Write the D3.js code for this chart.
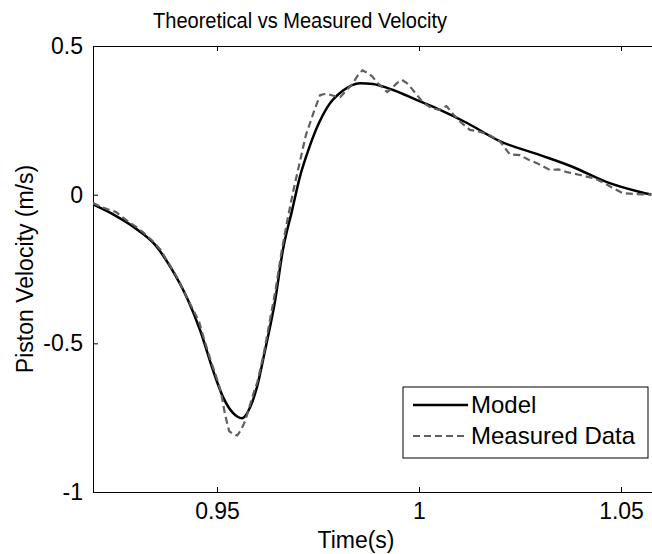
<!DOCTYPE html>
<html>
<head>
<meta charset="utf-8">
<script src="https://cdn.jsdelivr.net/npm/d3@7"></script>
<style>
  body { margin: 0; background: #fff; }
  svg { display: block; font-family: "Liberation Sans", Arial, sans-serif; }
  .axis path, .axis line { stroke: #000; stroke-width: 1px; }
  .axis text { font-size: 23px; fill: #000; }
</style>
</head>
<body>
<svg id="chart"></svg>
<script>
// model curve (time in s, velocity in m/s)
const model_t = [0.9193, 0.9245, 0.9297, 0.9347, 0.9389, 0.9428, 0.9458, 0.9490, 0.9515, 0.9540,
  0.9562, 0.9582, 0.9599, 0.9619, 0.9644, 0.9663, 0.9686, 0.9705, 0.9730, 0.9752, 0.9772,
  0.9812, 0.9854, 0.9886, 0.9936, 0.9995, 1.0052, 1.0119, 1.0200, 1.0300, 1.0381,
  1.0465, 1.0547, 1.0575];
const model_v = [-0.033, -0.068, -0.112, -0.169, -0.253, -0.354, -0.455, -0.590, -0.681, -0.735,
  -0.752, -0.715, -0.647, -0.523, -0.355, -0.187, -0.052, 0.059, 0.165, 0.240, 0.292,
  0.350, 0.375, 0.372, 0.352, 0.318, 0.285, 0.241, 0.180, 0.133, 0.093,
  0.042, 0.009, 0.000];

// measured data
const meas_t = [0.9193, 0.9215, 0.9235, 0.9250, 0.9265, 0.9285, 0.9300, 0.9320, 0.9340, 0.9360,
  0.9380, 0.9400, 0.9420, 0.9440, 0.9455, 0.9470, 0.9485, 0.9500, 0.9510, 0.9520,
  0.9530, 0.9540, 0.9550, 0.9560, 0.9570, 0.9580, 0.9590, 0.9600, 0.9615, 0.9630,
  0.9645, 0.9660, 0.9675, 0.9690, 0.9705, 0.9720, 0.9740, 0.9755, 0.9770, 0.9790,
  0.9805, 0.9820, 0.9835, 0.9848, 0.9860, 0.9872, 0.9884, 0.9896, 0.9908, 0.9921,
  0.9933, 0.9946, 0.9958, 0.9970, 0.9983, 0.9995, 1.0010, 1.0030, 1.0050, 1.0068,
  1.0085, 1.0102, 1.0126, 1.0150, 1.0175, 1.0200, 1.0225, 1.0250, 1.0270, 1.0292,
  1.0324, 1.0345, 1.0366, 1.0399, 1.0431, 1.0455, 1.0480, 1.0505, 1.0540, 1.0575];
const meas_v = [-0.028, -0.042, -0.052, -0.058, -0.075, -0.095, -0.108, -0.130, -0.155, -0.185,
  -0.230, -0.275, -0.330, -0.385, -0.425, -0.495, -0.560, -0.620, -0.665, -0.740,
  -0.795, -0.805, -0.810, -0.790, -0.760, -0.715, -0.670, -0.630, -0.540, -0.430,
  -0.320, -0.190, -0.080, 0.020, 0.110, 0.200, 0.280, 0.335, 0.340, 0.332,
  0.328, 0.350, 0.372, 0.400, 0.418, 0.410, 0.398, 0.378, 0.362, 0.345,
  0.358, 0.376, 0.386, 0.375, 0.355, 0.335, 0.310, 0.292, 0.285, 0.298,
  0.270, 0.245, 0.218, 0.212, 0.200, 0.180, 0.135, 0.133, 0.118, 0.106,
  0.083, 0.085, 0.076, 0.066, 0.056, 0.042, 0.022, 0.005, 0.002, 0.000];

const x_ticks = [0.95, 1, 1.05];
const y_ticks = [0.5, 0, -0.5, -1];

const W = 652, H = 554;
const LEFT = 93, TOP = 46, BOTTOM = 492, RIGHT = 662;

var svg = d3.select('#chart').attr('width', W).attr('height', H);

// plot runs past the right edge of the picture, as in the reference
var x0 = d3.scaleLinear().domain([0.95, 1.0]).range([217, 419]);
var x = d3.scaleLinear().domain([x0.invert(LEFT), x0.invert(RIGHT)]).range([LEFT, RIGHT]);
var y = d3.scaleLinear().domain([-1, 0.5]).range([BOTTOM, TOP]);

const fmt = function (d) { return String(+d.toFixed(2)); };

var model = model_t.map(function (t, i) { return { t: t, v: model_v[i] }; });
var meas = meas_t.map(function (t, i) { return { t: t, v: meas_v[i] }; });

// top border with inward ticks
svg.append('g')
    .attr('class', 'axis')
    .attr('transform', 'translate(0,' + TOP + ')')
    .call(d3.axisTop(x).tickValues(x_ticks).tickSize(-5).tickSizeOuter(0).tickFormat(''));

// bottom axis
svg.append('g')
    .attr('class', 'axis')
    .attr('transform', 'translate(0,' + BOTTOM + ')')
    .call(d3.axisBottom(x).tickValues(x_ticks).tickSize(-5).tickSizeOuter(0).tickPadding(11).tickFormat(fmt));

// left axis
svg.append('g')
    .attr('class', 'axis')
    .attr('transform', 'translate(' + LEFT + ',0)')
    .call(d3.axisLeft(y).tickValues(y_ticks).tickSize(-5).tickSizeOuter(0).tickPadding(10).tickFormat(fmt));

svg.selectAll('.axis text').attr('font-family', null).attr('font-size', null);

var line = d3.line()
    .x(function (d) { return x(d.t); })
    .y(function (d) { return y(d.v); });

svg.append('defs').append('clipPath').attr('id', 'plotclip')
    .append('rect').attr('x', LEFT).attr('y', TOP).attr('width', RIGHT - LEFT).attr('height', BOTTOM - TOP);

var plot = svg.append('g').attr('clip-path', 'url(#plotclip)');

plot.append('path')
    .datum(model)
    .attr('fill', 'none')
    .attr('stroke', '#000')
    .attr('stroke-width', 2.5)
    .attr('d', line.curve(d3.curveMonotoneX));

plot.append('path')
    .datum(meas)
    .attr('fill', 'none')
    .attr('stroke', '#5f5f5f')
    .attr('stroke-width', 2.2)
    .attr('stroke-dasharray', '7,4')
    .attr('d', line.curve(d3.curveLinear));

// title and labels
svg.append('text')
    .text('Theoretical vs Measured Velocity')
    .attr('x', 300).attr('y', 28)
    .attr('textLength', 294)
    .attr('lengthAdjust', 'spacingAndGlyphs')
    .style('font-size', '22px')
    .style('text-anchor', 'middle');

svg.append('text')
    .text('Time(s)')
    .attr('x', 356).attr('y', 548)
    .style('font-size', '23px')
    .style('text-anchor', 'middle');

svg.append('text')
    .text('Piston Velocity (m/s)')
    .attr('transform', 'translate(33,' + ((TOP + BOTTOM) / 2) + ') rotate(-90)')
    .style('font-size', '23px')
    .style('text-anchor', 'middle');

// legend
var legend = svg.append('g');
legend.append('rect')
    .attr('x', 403).attr('y', 387).attr('width', 245).attr('height', 71)
    .attr('fill', '#fff').attr('stroke', '#000').attr('stroke-width', 1);

var items = [
    { name: 'Model', color: '#000', dash: null, w: 2.5 },
    { name: 'Measured Data', color: '#5f5f5f', dash: '7,4', w: 2.2 }
];
items.forEach(function (it, i) {
    var yy = 405 + i * 31;
    legend.append('line')
        .attr('x1', 413).attr('x2', 468).attr('y1', yy).attr('y2', yy)
        .attr('stroke', it.color).attr('stroke-width', it.w)
        .attr('stroke-dasharray', it.dash);
    legend.append('text')
        .text(it.name)
        .attr('x', 471).attr('y', yy + 8)
        .style('font-size', '24px');
});
</script>
</body>
</html>
